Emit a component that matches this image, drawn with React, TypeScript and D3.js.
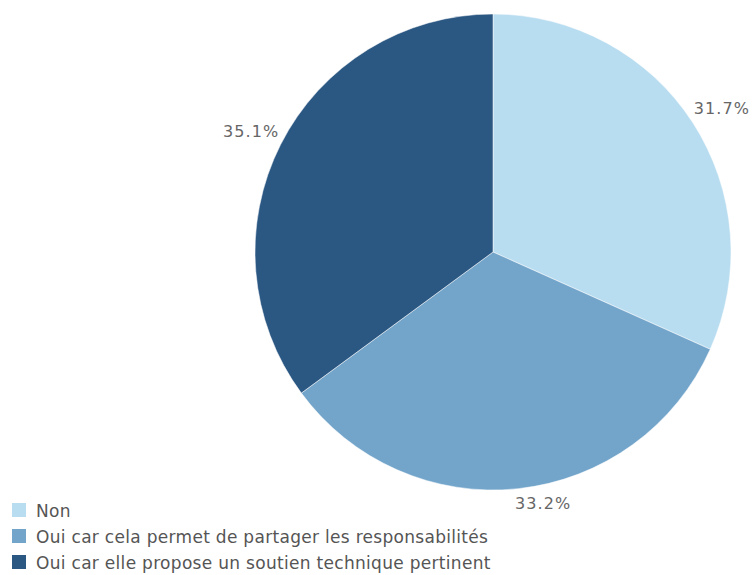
import React from "react";
import * as d3 from "d3";

const categories = ["Non", "Oui car cela permet de partager les responsabilités", "Oui car elle propose un soutien technique pertinent"];
const values = [31.7, 33.2, 35.1];
const colors = ["#b9ddf0", "#73a5cb", "#2b5783"];

const W = 752, H = 575;
const cx = 493, cy = 252, R = 238;
const FONT = "'DejaVu Sans', sans-serif";

export default function App() {
  const pie = d3.pie<number>().sort(null).value(d => d)(values);
  const arc = d3.arc<d3.PieArcDatum<number>>().innerRadius(0).outerRadius(R);
  const total = d3.sum(values);
  return (
    <svg width={W} height={H} style={{ position: "absolute", left: 0, top: 0 }}>
      <rect width={W} height={H} fill="#fff" />
      <g transform={`translate(${cx},${cy})`}>
        {pie.map((p, i) => (
          <path key={i} d={arc(p) || ""} fill={colors[i]} stroke="#fff" strokeWidth={0.5} />
        ))}
        {pie.map((p, i) => {
          const a = (p.startAngle + p.endAngle) / 2;
          const r = R + 6;
          const x = Math.sin(a) * r;
          const y = -Math.cos(a) * r;
          const upper = Math.cos(a) > 0;
          const anchor = Math.sin(a) >= 0 ? "start" : "end";
          return (
            <text key={i} x={x + (Math.sin(a) >= 0 ? -4 : 4)} y={upper ? y - 5 : y + 2} textAnchor={anchor}
              dominantBaseline={upper ? "auto" : "hanging"}
              fontFamily={FONT} fontSize={16} letterSpacing={1.1} fill="#666">
              {((values[i] / total) * 100).toFixed(1)}%
            </text>
          );
        })}
      </g>
      <g transform="translate(12,503)">
        {categories.map((c, i) => (
          <g key={i} transform={`translate(0,${i * 26})`}>
            <rect x={0} y={0} width={14} height={14} fill={colors[i]} />
            <text x={24} y={8} dominantBaseline="central" fontFamily={FONT} fontSize={17} letterSpacing={0.3} fill="#555">{c}</text>
          </g>
        ))}
      </g>
    </svg>
  );
}
